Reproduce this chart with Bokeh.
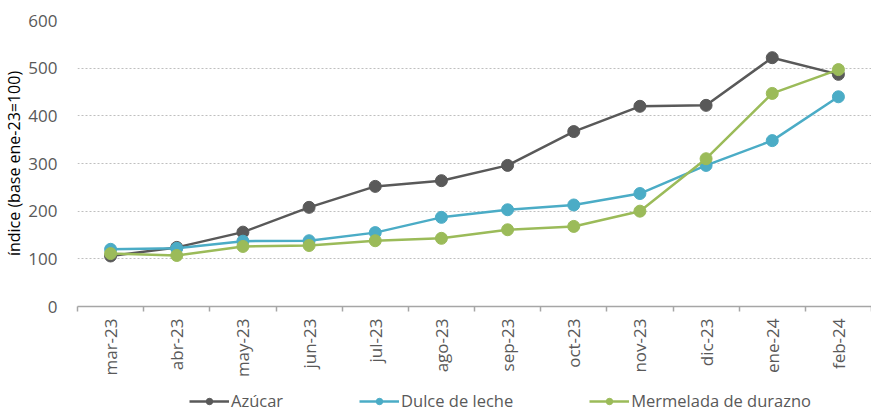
import math
from bokeh.plotting import figure
from bokeh.layouts import column
from bokeh.models import (FixedTicker, LinearAxis, Legend, LegendItem,
                          CustomJSTickFormatter, Range1d)
from bokeh.embed import file_html
from bokeh.resources import INLINE

months = ["mar-23", "abr-23", "may-23", "jun-23", "jul-23", "ago-23",
          "sep-23", "oct-23", "nov-23", "dic-23", "ene-24", "feb-24"]
azucar = [106, 124, 156, 208, 252, 264, 296, 367, 420, 422, 522, 487]
dulce = [120, 122, 137, 138, 155, 187, 203, 213, 237, 296, 348, 440]
mermelada = [111, 107, 126, 128, 138, 143, 161, 168, 200, 310, 447, 497]
y_ticks = [0, 100, 200, 300, 400, 500, 600]

series = [("Azúcar", azucar, "#595959"),
          ("Dulce de leche", dulce, "#4BACC6"),
          ("Mermelada de durazno", mermelada, "#9BBB59")]

FONT = "Open Sans"
TXT = "#595959"
W = 871

p = figure(width=W, height=380, output_backend="svg", toolbar_location=None,
           x_axis_type=None, y_range=Range1d(0, 600),
           x_range=Range1d(0, len(months)),
           min_border_left=69, min_border_right=0, min_border_top=20,
           min_border_bottom=74)
p.outline_line_color = None
p.background_fill_color = "white"
p.border_fill_color = "white"

xpos = [i + 0.5 for i in range(len(months))]

for name, vals, col in series:
    p.line(xpos, vals, line_color=col, line_width=2.5)
    p.scatter(xpos, vals, size=12, fill_color=col, line_color=col)

# x axis
xaxis = LinearAxis(
    ticker=FixedTicker(ticks=xpos, minor_ticks=list(range(len(months) + 1))),
    formatter=CustomJSTickFormatter(args=dict(labels=months),
                                    code="return labels[Math.floor(tick)] || ''"),
)
xaxis.axis_line_color = "#A6A6A6"
xaxis.axis_line_width = 1.5
xaxis.major_tick_out = 0
xaxis.major_tick_in = 0
xaxis.minor_tick_out = 5
xaxis.minor_tick_in = 0
xaxis.minor_tick_line_color = "#A6A6A6"
xaxis.minor_tick_line_width = 1.5
xaxis.major_label_orientation = math.pi / 2
xaxis.major_label_standoff = 7
xaxis.major_label_text_font = FONT
xaxis.major_label_text_font_size = "17px"
xaxis.major_label_text_color = TXT
p.add_layout(xaxis, "below")

# y axis
ya = p.yaxis[0]
ya.ticker = FixedTicker(ticks=y_ticks)
ya.axis_line_color = None
ya.major_tick_line_color = None
ya.minor_tick_line_color = None
ya.major_label_standoff = 14
ya.major_label_text_font = FONT
ya.major_label_text_font_size = "17px"
ya.major_label_text_color = TXT
ya.axis_label = "índice (base ene-23=100)"
ya.axis_label_text_font = FONT
ya.axis_label_text_font_size = "16px"
ya.axis_label_text_font_style = "normal"
ya.axis_label_text_color = "#000000"
ya.axis_label_standoff = 0

p.xgrid.grid_line_color = None
p.ygrid.ticker = FixedTicker(ticks=y_ticks)
p.ygrid.grid_line_color = "#BFBFBF"
p.ygrid.grid_line_dash = "2 2"
p.ygrid.grid_line_width = 1

# legend in its own strip below the chart (series drawn off-range, only legend shows)
lg = figure(width=W, height=32, output_backend="svg", toolbar_location=None,
            x_axis_type=None, y_axis_type=None,
            x_range=Range1d(0, len(months)), y_range=Range1d(-2000, -1000),
            min_border_left=0, min_border_right=0, min_border_top=0,
            min_border_bottom=0)
lg.outline_line_color = None
lg.xgrid.visible = False
lg.ygrid.visible = False
items = []
for name, vals, col in series:
    r1 = lg.line(xpos, vals, line_color=col, line_width=2.5)
    r2 = lg.scatter(xpos, vals, size=9, fill_color=col, line_color=col)
    items.append(LegendItem(label=name, renderers=[r1, r2]))
legend = Legend(items=items, orientation="horizontal", location=(112, 0),
                glyph_width=40, glyph_height=16, label_standoff=2, spacing=76,
                label_text_font=FONT, label_text_font_size="16.5px",
                label_text_color=TXT, border_line_color=None,
                background_fill_alpha=0, margin=0, padding=2)
lg.add_layout(legend, "center")

layout = column(p, lg)
open("out.html", "w").write(file_html(layout, INLINE))
